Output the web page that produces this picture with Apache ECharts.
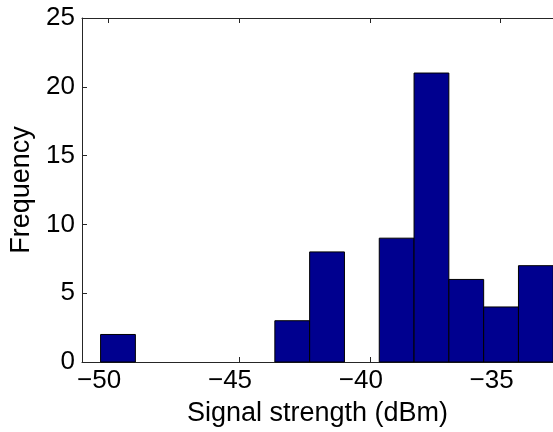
<!DOCTYPE html>
<html>
<head>
<meta charset="utf-8">
<script src="https://cdn.jsdelivr.net/npm/echarts@6/dist/echarts.min.js"></script>
<style>
html,body{margin:0;padding:0;background:#fff;}
#chart{width:553px;height:432px;}
</style>
</head>
<body>
<div id="chart"></div>
<script>
// Histogram bin edges (dBm) and counts
const binEdges = [-50.29, -48.96, -47.63, -46.30, -44.96, -43.63, -42.30, -40.97, -39.64, -38.31, -36.98, -35.65, -34.32, -32.99];
const counts = [2, 0, 0, 0, 0, 3, 8, 0, 9, 21, 6, 4, 7];
const xTicks = [-50, -45, -40, -35];
const yTicks = [0, 5, 10, 15, 20, 25];

const bins = counts.map((c, i) => [binEdges[i], binEdges[i + 1], c]);

const font = 'Liberation Sans, Arial, Helvetica, sans-serif';
const fmtMinus = v => String(v).replace('-', '\u2212');

const chart = echarts.init(document.getElementById('chart'), null, {renderer: 'canvas'});
chart.setOption({
  animation: false,
  backgroundColor: '#fff',
  grid: {left: 81, top: 18, bottom: 61, right: -8, containLabel: false},
  xAxis: [{
    type: 'value', min: -51, max: -33, interval: 5,
    position: 'bottom',
    axisLine: {show: true, onZero: false, lineStyle: {color: '#262626', width: 1}},
    axisTick: {show: true, inside: true, length: 5, lineStyle: {color: '#262626'},
      customValues: xTicks},
    axisLabel: {show: true, color: '#000', fontSize: 26, fontFamily: font, margin: 6,
      padding: [0, 18, 0, 0],
      customValues: xTicks, formatter: fmtMinus},
    splitLine: {show: false},
    name: 'Signal strength (dBm)', nameLocation: 'middle', nameGap: 38,
    nameTextStyle: {color: '#000', fontSize: 27, fontFamily: font}
  }, {
    type: 'value', min: -51, max: -33, position: 'top',
    axisLine: {show: true, onZero: false, lineStyle: {color: '#262626', width: 1}},
    axisTick: {show: true, inside: true, length: 5, lineStyle: {color: '#262626'},
      customValues: xTicks},
    axisLabel: {show: false},
    splitLine: {show: false}
  }],
  yAxis: [{
    type: 'value', min: 0, max: 25, interval: 5,
    axisLine: {show: true, lineStyle: {color: '#262626', width: 1}},
    axisTick: {show: true, inside: true, length: 5, lineStyle: {color: '#262626'},
      customValues: yTicks},
    axisLabel: {show: true, color: '#000', fontSize: 26, fontFamily: font, margin: 7,
      customValues: yTicks},
    splitLine: {show: false},
    name: 'Frequency', nameLocation: 'middle', nameGap: 47, nameRotate: 90,
    nameTextStyle: {color: '#000', fontSize: 27, fontFamily: font}
  }],
  series: [{
    type: 'custom',
    xAxisIndex: 0, yAxisIndex: 0,
    data: bins,
    renderItem: function (params, api) {
      const x0 = api.value(0), x1 = api.value(1), c = api.value(2);
      if (!c) return null;
      const p0 = api.coord([x0, c]);
      const p1 = api.coord([x1, 0]);
      return {
        type: 'rect',
        shape: {x: p0[0], y: p0[1], width: p1[0] - p0[0], height: p1[1] - p0[1]},
        style: {fill: '#00008F', stroke: '#000', lineWidth: 1}
      };
    },
    encode: {x: [0, 1], y: 2}
  }]
});
</script>
</body>
</html>
